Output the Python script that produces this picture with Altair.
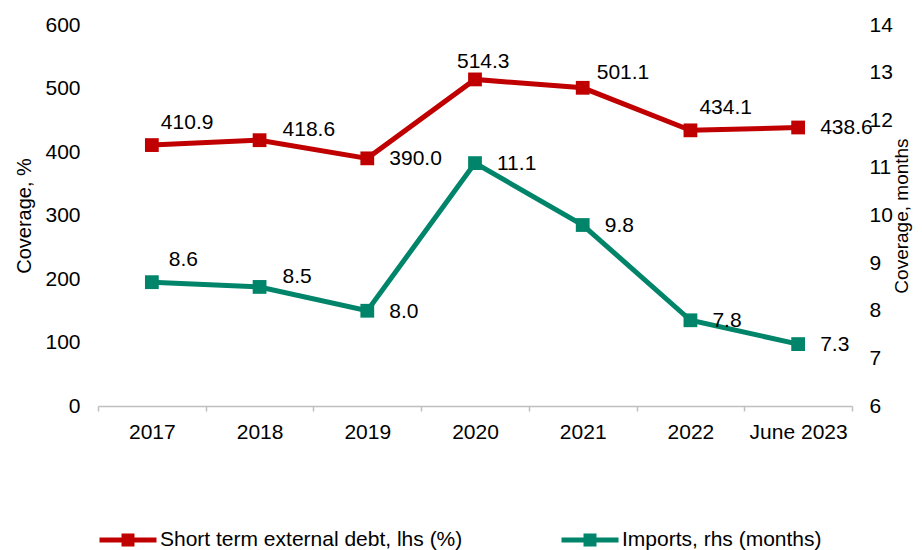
import altair as alt
import pandas as pd

categories = ["2017", "2018", "2019", "2020", "2021", "2022", "June 2023"]
debt_values = [410.9, 418.6, 390.0, 514.3, 501.1, 434.1, 438.6]
import_values = [8.6, 8.5, 8.0, 11.1, 9.8, 7.8, 7.3]
debt_name = "Short term external debt, lhs (%)"
import_name = "Imports, rhs (months)"

RED = "#C00000"
GREEN = "#00856A"
FONT = "Liberation Sans"
FS = 21

debt_df = pd.DataFrame({"cat": categories, "value": debt_values, "series": debt_name})
imp_df = pd.DataFrame({"cat": categories, "value": import_values, "series": import_name})

# label placement groups (styling): categories, dx, dy
red_label_groups = [
    (["2019", "June 2023"], 22, 1),
    (["2018"], 23, -10),
    (["2017", "2022"], 9, -22),
    (["2021"], 14, -15),
    (["2020"], -18, -17),
]
green_label_groups = [
    (["2019", "2020", "2021", "2022", "June 2023"], 22, 1),
    (["2018"], 23, -10),
    (["2017"], 17, -22),
]

x_enc = alt.X(
    "cat:N",
    sort=categories,
    bandPosition=0.5,
    scale=alt.Scale(type="band", paddingInner=0, paddingOuter=0),
    axis=alt.Axis(
        title=None, labelAngle=0, tickBand="extent", ticks=True, tickSize=5,
        tickColor="#BFBFBF", domainColor="#BFBFBF", domainWidth=1.5, tickWidth=1.5,
        labelPadding=10, labelFontSize=FS, labelFont=FONT, labelColor="#000000",
        grid=False,
    ),
)

legend_path = "M-1,0H1M-0.14,-0.14H0.14V0.14H-0.14Z"

color_enc = alt.Color(
    "series:N",
    scale=alt.Scale(domain=[debt_name, import_name], range=[RED, GREEN]),
    legend=alt.Legend(
        title=None, orient="none", direction="horizontal", legendX=-1, legendY=484,
        symbolType=legend_path, symbolSize=3249, symbolStrokeWidth=5,
        labelFontSize=FS, labelFont=FONT, labelColor="#000000", labelLimit=500,
        columnPadding=88, labelOffset=1, padding=0,
    ),
)


def series_layer(df, y_axis, y_domain, groups):
    y_enc = alt.Y("value:Q", scale=alt.Scale(domain=y_domain, nice=False, zero=False), axis=y_axis)
    line = alt.Chart(df).mark_line(
        strokeWidth=5,
        point=alt.OverlayMarkDef(shape="square", size=190, filled=True, opacity=1),
    ).encode(x=x_enc, y=y_enc, color=color_enc)
    layers = [line]
    for cats, dx, dy in groups:
        layers.append(
            alt.Chart(df).mark_text(
                align="left", baseline="middle", dx=dx, dy=dy,
                fontSize=FS, font=FONT, color="#000000",
            ).encode(x=x_enc, y=y_enc, text=alt.Text("value:Q", format=".1f"))
            .transform_filter(alt.FieldOneOfPredicate(field="cat", oneOf=cats))
        )
    return alt.layer(*layers)


left_axis = alt.Axis(
    title="Coverage, %", orient="left", values=[0, 100, 200, 300, 400, 500, 600],
    ticks=False, domain=False, grid=False, labelPadding=18,
    labelFontSize=FS, labelFont=FONT, labelColor="#000000",
    titleFontSize=20, titleFont=FONT, titleFontWeight="normal", titleColor="#000000",
    titlePadding=10,
)
right_axis = alt.Axis(
    title="Coverage, months", orient="right", values=list(range(6, 15)),
    ticks=False, domain=False, grid=False, labelPadding=17,
    labelFontSize=FS, labelFont=FONT, labelColor="#000000",
    titleFontSize=19, titleFont=FONT, titleFontWeight="normal", titleColor="#000000",
    titleAngle=270, titleBaseline="top", titlePadding=0,
)

red_layer = series_layer(debt_df, left_axis, [0, 600], red_label_groups)
green_layer = series_layer(imp_df, right_axis, [6, 14], green_label_groups)

chart = alt.layer(red_layer, green_layer).resolve_scale(y="independent").properties(
    width=754, height=381,
    autosize=alt.AutoSizeParams(type="none"),
    padding={"left": 90, "top": 17, "right": 62, "bottom": 144},
).configure_view(stroke=None)

chart.save("out.html", embed_options={"renderer": "svg", "actions": False})
